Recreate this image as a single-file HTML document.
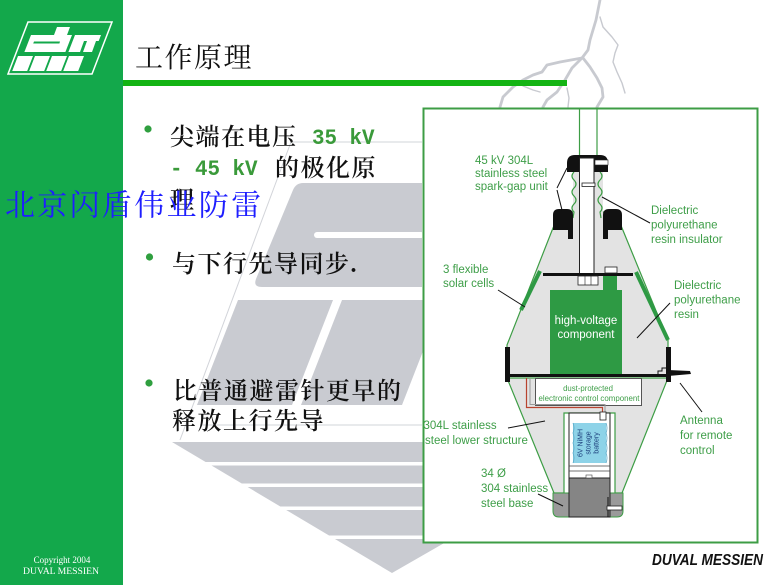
<!DOCTYPE html>
<html>
<head>
<meta charset="utf-8">
<style>
html,body{margin:0;padding:0;width:780px;height:585px;overflow:hidden;background:#fff}
svg{display:block}
.cjk{font-family:"Liberation Serif","Noto Serif CJK SC",serif}
.lbl{font-family:"Liberation Sans",sans-serif;font-size:11.5px;fill:#3e9e48}
</style>
</head>
<body>
<svg width="780" height="585" viewBox="0 0 780 585" xmlns="http://www.w3.org/2000/svg">
<defs>
<clipPath id="boxclip"><rect x="424.5" y="109" width="333" height="433"/></clipPath>
</defs>
<rect width="780" height="585" fill="#fff"/>

<!-- watermark -->
<g fill="#c9cbd1">
<path d="M303,183 L422,183 L422,287 L262,287 Q253,287 256,279 L293,190 Q296,183 303,183 Z"/>
<polygon points="238,300 333,300 292,405 197,405"/>
<polygon points="342,300 443,300 402,405 301,405"/>
<polygon points="172,442 500,442 500,511 392,573"/>
</g>
<rect x="314" y="232" width="110" height="6" rx="3" fill="#fff"/>
<g fill="#fff">
<rect x="150" y="462" width="360" height="3.5"/>
<rect x="150" y="483.5" width="360" height="3.5"/>
<rect x="150" y="506.5" width="360" height="3.5"/>
<rect x="150" y="535.5" width="360" height="3.5"/>
</g>
<g stroke="#d2d4d9" stroke-width="1" fill="none">
<line x1="291" y1="142" x2="180" y2="440"/>
<line x1="291" y1="142" x2="422" y2="142"/>
<line x1="200" y1="425" x2="422" y2="425"/>
</g>

<!-- lightning -->
<g fill="none" stroke="#c8cad0" stroke-linejoin="round" stroke-linecap="round">
<polyline stroke-width="2.8" points="600,0 598,10 596,20 593,30 590,40 588,50 582,58 560,62 547,65 542,72 533,75 523,80 513,87 503,97 500,107"/>
<polyline stroke-width="2.8" points="582,58 572,68 565,80 557,92 547,100 543,107"/>
<polyline stroke-width="2.8" points="583,58 590,67 597,78 602,88 603,97 597,107"/>
<polyline stroke-width="1.4" points="600,17 603,27 612,37 618,45 615,53 613,62 617,72 622,83 625,93"/>
<polyline stroke-width="1.4" points="523,86 533,90 540,92"/>
<polyline stroke-width="1.4" points="567,88 569,98 568,107"/>
</g>

<!-- sidebar -->
<rect x="0" y="0" width="123" height="585" fill="#13a84b"/>
<!-- logo -->
<polygon points="28,22 112,22 92,74 8,74" fill="none" stroke="#fff" stroke-width="1.5"/>
<g fill="#fff">
<polygon points="57,27 70,27 67,35 54,35"/>
<polygon points="31,35 72,35 65.4,52 24.4,52"/>
<polygon points="75,35 101,35 94.4,52 68.4,52"/>
<polygon points="18,56 33,56 27.2,71 12.2,71"/>
<polygon points="35,56 50,56 44.2,71 29.2,71"/>
<polygon points="52,56 67,56 61.2,71 46.2,71"/>
<polygon points="69,56 84,56 78.2,71 63.2,71"/>
</g>
<g fill="#13a84b">
<polygon points="34,41.5 60,41.5 59.4,43.5 33.2,43.5"/>
<polygon points="84,41 87,41 83,52 80,52"/>
<polygon points="96,41 100,41 96,52 92,52"/>
</g>
<text x="62" y="563" font-family="'Liberation Serif',serif" font-size="9" fill="#fff" text-anchor="middle">Copyright 2004</text>
<text x="61" y="574" font-family="'Liberation Serif',serif" font-size="9" fill="#fff" text-anchor="middle" textLength="76" lengthAdjust="spacingAndGlyphs">DUVAL MESSIEN</text>

<!-- title -->
<text x="135" y="67" class="cjk" font-size="28" letter-spacing="1.5" fill="#111">工作原理</text>
<rect x="123" y="80" width="444" height="6" fill="#14b414"/>

<!-- bullets -->
<g fill="#2f9f3f">
<circle cx="148" cy="129" r="3.6"/>
<circle cx="149.5" cy="257" r="3.6"/>
<circle cx="149" cy="383" r="3.6"/>
</g>
<g class="cjk" font-size="24" letter-spacing="1.5" font-weight="600" fill="#111">
<text x="170" y="145">尖端在电压</text>
<text x="275" y="176">的极化原</text>
<text x="170" y="208">理</text>
<text x="172" y="272">与下行先导同步.</text>
<text x="173" y="399">比普通避雷针更早的</text>
<text x="172" y="429">释放上行先导</text>
</g>
<g font-family="'Liberation Mono',monospace" font-size="22" font-weight="bold" fill="#3a9a3a">
<text x="312" y="144" textLength="62.5" lengthAdjust="spacingAndGlyphs">35 kV</text>
<text x="170" y="175" textLength="87.5" lengthAdjust="spacingAndGlyphs">- 45 kV</text>
</g>

<!-- diagram box -->
<rect x="423.5" y="108.5" width="334" height="434" fill="#fff" stroke="#3d9d45" stroke-width="2"/>
<line x1="579.5" y1="108" x2="579.5" y2="158" stroke="#3d9d45" stroke-width="1.2"/>
<line x1="597" y1="108" x2="597" y2="158" stroke="#3d9d45" stroke-width="1.2"/>

<!-- upper cone -->
<polygon points="560,212 616,212 622,228 668,340 668,376 507,376 507,345 553,228" fill="#e3e3e3" stroke="#3d9d45" stroke-width="1.2"/>
<rect x="573" y="170" width="30" height="44" fill="#e3e3e3"/>
<path d="M574,172 q-4,4 0,8 q4,4 0,8 q-4,4 0,8 q4,4 0,8 q-4,4 0,8 l-1,6" fill="none" stroke="#3d9d45" stroke-width="1.2"/>
<path d="M600,172 q4,4 0,8 q-4,4 0,8 q4,4 0,8 q-4,4 0,8 q4,4 0,8 l1,6" fill="none" stroke="#3d9d45" stroke-width="1.2"/>

<!-- lower taper -->
<path d="M507,378 L668,378 L622,493 L615,493 L615,413 L564,413 L564,493 L554,493 Z" fill="#e3e3e3" stroke="#3d9d45" stroke-width="1.2"/>
<path d="M553,493 L623,493 L623,511 Q623,517 617,517 L559,517 Q553,517 553,511 Z" fill="#9a9a9a" stroke="#3d9d45" stroke-width="1"/>
<rect x="569" y="413" width="41" height="104" fill="#fff" stroke="#222" stroke-width="1"/>
<rect x="573" y="423" width="33" height="40" fill="#8ed3e8"/>
<path d="M573,423 q2,5 0,10 q2,5 0,10 q2,5 0,10 q2,5 0,10" fill="none" stroke="#5aa9c8" stroke-width="0.8"/>
<path d="M606,423 q2,5 0,10 q2,5 0,10 q2,5 0,10 q2,5 0,10" fill="none" stroke="#5aa9c8" stroke-width="0.8"/>
<g transform="translate(589.5,443) rotate(-90)" font-family="'Liberation Sans',sans-serif" font-size="7" fill="#1b3d7a" text-anchor="middle">
<text x="0" y="-7">6V NiMH</text>
<text x="0" y="1">storage</text>
<text x="0" y="9">battery</text>
</g>
<line x1="569" y1="466" x2="610" y2="466" stroke="#444" stroke-width="0.8"/>
<line x1="569" y1="471" x2="610" y2="471" stroke="#444" stroke-width="0.8"/>
<rect x="569" y="478" width="41" height="39" fill="#858585" stroke="#222" stroke-width="1"/>
<rect x="586" y="475" width="6" height="3" fill="#fff" stroke="#444" stroke-width="0.6"/>
<line x1="608" y1="497" x2="608" y2="517" stroke="#111" stroke-width="1"/>
<rect x="607" y="506" width="15" height="4" fill="#fff" stroke="#222" stroke-width="0.8"/>

<!-- cap -->
<path d="M567,172 L567,163 Q567,155 575,155 L600,155 Q608,155 608,163 L608,172 Z" fill="#111"/>
<rect x="595" y="160" width="13" height="5" fill="#fff" stroke="#222" stroke-width="0.6"/>
<!-- rod -->
<rect x="579.5" y="158" width="14.5" height="117" fill="#fff" stroke="#222" stroke-width="1"/>
<rect x="582" y="183" width="13" height="3.5" fill="#fff" stroke="#222" stroke-width="0.8"/>
<!-- knobs -->
<path d="M553,230 L553,215 Q553,209 559,209 L567,209 Q573,209 573,215 L573,239 L568,239 L568,230 Z" fill="#111"/>
<path d="M622,230 L622,215 Q622,209 616,209 L609,209 Q603,209 603,215 L603,239 L608,239 L608,230 Z" fill="#111"/>

<!-- plate area -->
<rect x="543" y="273" width="90" height="3" fill="#111"/>
<rect x="605" y="267" width="12" height="6" fill="#fff" stroke="#222" stroke-width="0.8"/>
<rect x="578" y="276" width="20" height="9" fill="#fff" stroke="#222" stroke-width="0.8"/>
<line x1="585" y1="276" x2="585" y2="285" stroke="#222" stroke-width="0.6"/>
<line x1="591" y1="276" x2="591" y2="285" stroke="#222" stroke-width="0.6"/>
<rect x="603" y="276" width="14" height="14" fill="#2e9a44"/>
<rect x="550" y="290" width="72" height="85" fill="#2e9a44"/>
<text x="586" y="324" font-family="'Liberation Sans',sans-serif" font-size="11.5" fill="#fff" text-anchor="middle">high-voltage</text>
<text x="586" y="338" font-family="'Liberation Sans',sans-serif" font-size="11.5" fill="#fff" text-anchor="middle">component</text>

<!-- solar cells -->
<line x1="540" y1="271" x2="521" y2="310" stroke="#2e9a44" stroke-width="4"/>
<line x1="636" y1="272" x2="668" y2="340" stroke="#2e9a44" stroke-width="4"/>

<!-- side bars and lower plate -->
<rect x="505" y="347" width="5" height="35" fill="#111"/>
<rect x="666" y="347" width="5" height="35" fill="#111"/>
<rect x="505" y="374" width="166" height="3" fill="#111"/>

<!-- dust box -->
<rect x="535.5" y="378.5" width="106" height="27" fill="#fff" stroke="#555" stroke-width="1"/>
<text x="588" y="391" font-family="'Liberation Sans',sans-serif" font-size="7.8" fill="#3e9e48" text-anchor="middle">dust-protected</text>
<text x="538.5" y="401" font-family="'Liberation Sans',sans-serif" font-size="7.8" fill="#3e9e48" textLength="101" lengthAdjust="spacingAndGlyphs">electronic control component</text>

<!-- wire -->
<path d="M526.5,378 L526.5,407.5 L602.5,407.5 L602.5,413" stroke="#b8432f" fill="none" stroke-width="1.2"/>
<path d="M530,378 L530,404.5 L605,404.5 L605,413" stroke="#999" fill="none" stroke-width="1"/>
<rect x="600" y="412" width="6" height="8" fill="#fff" stroke="#222" stroke-width="0.8"/>

<!-- antenna -->
<polygon points="668,370 690,371 691,374 668,376" fill="#111"/>
<path d="M658,374 L658,371 L662,371 L662,368 L667,368" stroke="#111" fill="none" stroke-width="1"/>

<!-- leader lines -->
<g stroke="#111" stroke-width="1" fill="none">
<line x1="557" y1="188" x2="567" y2="168"/>
<line x1="557" y1="190" x2="562" y2="210"/>
<line x1="602" y1="197" x2="650" y2="223"/>
<line x1="498" y1="290" x2="525" y2="307"/>
<line x1="637" y1="338" x2="670" y2="303"/>
<line x1="680" y1="383" x2="702" y2="412"/>
<line x1="508" y1="428" x2="545" y2="421"/>
<line x1="538" y1="494" x2="563" y2="506"/>
</g>

<!-- labels -->
<g class="lbl">
<text x="475" y="164">45 kV 304L</text>
<text x="475" y="177">stainless steel</text>
<text x="475" y="190">spark-gap unit</text>
<text x="651" y="214">Dielectric</text>
<text x="651" y="228.5">polyurethane</text>
<text x="651" y="243">resin insulator</text>
<text x="443" y="273">3 flexible</text>
<text x="443" y="287">solar cells</text>
<text x="674" y="289">Dielectric</text>
<text x="674" y="303.5">polyurethane</text>
<text x="674" y="318">resin</text>
<text x="680" y="424">Antenna</text>
<text x="680" y="439">for remote</text>
<text x="680" y="454">control</text>
<g clip-path="url(#boxclip)">
<text x="423.5" y="429">304L stainless</text>
<text x="425" y="444">steel lower structure</text>
</g>
<text x="481" y="477">34 Ø</text>
<text x="481" y="492">304 stainless</text>
<text x="481" y="507">steel base</text>
</g>

<text x="652" y="565" font-family="'Liberation Sans',sans-serif" font-weight="bold" font-style="italic" font-size="16" fill="#111" textLength="111" lengthAdjust="spacingAndGlyphs">DUVAL MESSIEN</text>

<!-- blue overlay text -->
<text x="5" y="215.5" class="cjk" font-size="30" letter-spacing="2.3" fill="#1e1eff">北京闪盾伟业防雷</text>
</svg>
</body>
</html>
